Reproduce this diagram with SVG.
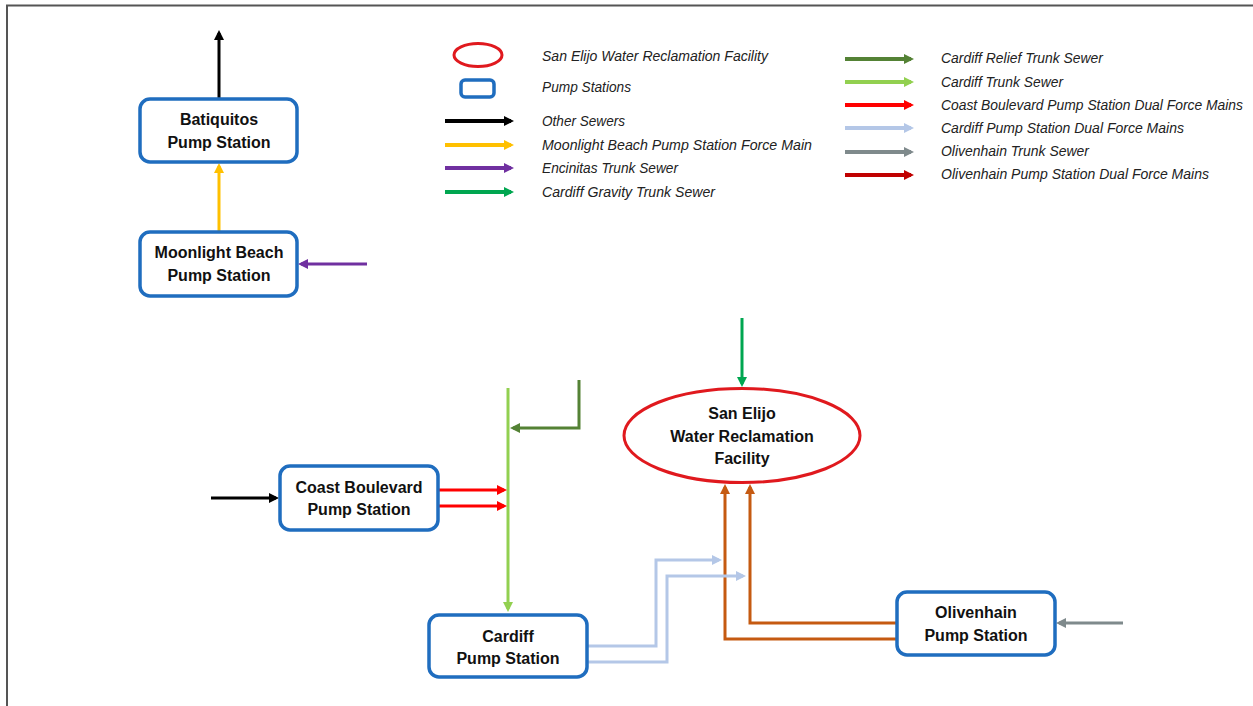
<svg xmlns="http://www.w3.org/2000/svg" width="1253" height="706" viewBox="0 0 1253 706">
<style>
.box{fill:#fff;stroke:#1f6dbf;stroke-width:3.5}
.lbl{font-family:"Liberation Sans",Arial,sans-serif;font-weight:bold;font-size:16px;fill:#111;text-anchor:middle}
.leg{font-family:"Liberation Sans",Arial,sans-serif;font-style:italic;font-size:14px;fill:#222}
.ln{fill:none;stroke-width:3}
.lg{fill:none;stroke-width:4}
</style>
<defs>
<marker id="aBlack" viewBox="0 0 10 10" refX="7" refY="5" markerWidth="12" markerHeight="10" markerUnits="userSpaceOnUse" orient="auto"><path d="M0,0L10,5L0,10z" fill="#000"/></marker>
<marker id="aYellow" viewBox="0 0 10 10" refX="7" refY="5" markerWidth="12" markerHeight="10" markerUnits="userSpaceOnUse" orient="auto"><path d="M0,0L10,5L0,10z" fill="#ffc000"/></marker>
<marker id="aPurple" viewBox="0 0 10 10" refX="7" refY="5" markerWidth="12" markerHeight="10" markerUnits="userSpaceOnUse" orient="auto"><path d="M0,0L10,5L0,10z" fill="#7030a0"/></marker>
<marker id="aGreen" viewBox="0 0 10 10" refX="7" refY="5" markerWidth="12" markerHeight="10" markerUnits="userSpaceOnUse" orient="auto"><path d="M0,0L10,5L0,10z" fill="#00a650"/></marker>
<marker id="aDkGreen" viewBox="0 0 10 10" refX="7" refY="5" markerWidth="12" markerHeight="10" markerUnits="userSpaceOnUse" orient="auto"><path d="M0,0L10,5L0,10z" fill="#548235"/></marker>
<marker id="aLtGreen" viewBox="0 0 10 10" refX="7" refY="5" markerWidth="12" markerHeight="10" markerUnits="userSpaceOnUse" orient="auto"><path d="M0,0L10,5L0,10z" fill="#92d050"/></marker>
<marker id="aRed" viewBox="0 0 10 10" refX="7" refY="5" markerWidth="12" markerHeight="10" markerUnits="userSpaceOnUse" orient="auto"><path d="M0,0L10,5L0,10z" fill="#ff0000"/></marker>
<marker id="aLtBlue" viewBox="0 0 10 10" refX="7" refY="5" markerWidth="12" markerHeight="10" markerUnits="userSpaceOnUse" orient="auto"><path d="M0,0L10,5L0,10z" fill="#b4c7e7"/></marker>
<marker id="aGray" viewBox="0 0 10 10" refX="7" refY="5" markerWidth="12" markerHeight="10" markerUnits="userSpaceOnUse" orient="auto"><path d="M0,0L10,5L0,10z" fill="#7f8a8c"/></marker>
<marker id="aDkRed" viewBox="0 0 10 10" refX="7" refY="5" markerWidth="12" markerHeight="10" markerUnits="userSpaceOnUse" orient="auto"><path d="M0,0L10,5L0,10z" fill="#c00000"/></marker>
<marker id="aOrange" viewBox="0 0 10 10" refX="7" refY="5" markerWidth="12" markerHeight="10" markerUnits="userSpaceOnUse" orient="auto"><path d="M0,0L10,5L0,10z" fill="#c55a11"/></marker>
</defs>
<rect width="1253" height="706" fill="#fff"/>
<path d="M7,706V5.5H1253" fill="none" stroke="#555" stroke-width="2"/>

<g id="legend">
<ellipse cx="478" cy="55" rx="24" ry="11.5" fill="none" stroke="#e0191e" stroke-width="3"/>
<rect x="461" y="80" width="33" height="17" rx="4" fill="none" stroke="#1f6dbf" stroke-width="3.5"/>
<line class="lg" x1="445" y1="121" x2="511" y2="121" stroke="#000" marker-end="url(#aBlack)"/>
<line class="lg" x1="445" y1="145" x2="511" y2="145" stroke="#ffc000" marker-end="url(#aYellow)"/>
<line class="lg" x1="445" y1="168" x2="511" y2="168" stroke="#7030a0" marker-end="url(#aPurple)"/>
<line class="lg" x1="445" y1="192" x2="511" y2="192" stroke="#00a650" marker-end="url(#aGreen)"/>
<text class="leg" x="542" y="61" textLength="226" lengthAdjust="spacingAndGlyphs">San Elijo Water Reclamation Facility</text>
<text class="leg" x="542" y="92" textLength="89" lengthAdjust="spacingAndGlyphs">Pump Stations</text>
<text class="leg" x="542" y="126" textLength="83" lengthAdjust="spacingAndGlyphs">Other Sewers</text>
<text class="leg" x="542" y="150" textLength="270" lengthAdjust="spacingAndGlyphs">Moonlight Beach Pump Station Force Main</text>
<text class="leg" x="542" y="173" textLength="136" lengthAdjust="spacingAndGlyphs">Encinitas Trunk Sewer</text>
<text class="leg" x="542" y="197" textLength="173" lengthAdjust="spacingAndGlyphs">Cardiff Gravity Trunk Sewer</text>
<line class="lg" x1="845" y1="59" x2="911" y2="59" stroke="#548235" marker-end="url(#aDkGreen)"/>
<line class="lg" x1="845" y1="82" x2="911" y2="82" stroke="#92d050" marker-end="url(#aLtGreen)"/>
<line class="lg" x1="845" y1="105" x2="911" y2="105" stroke="#ff0000" marker-end="url(#aRed)"/>
<line class="lg" x1="845" y1="128" x2="911" y2="128" stroke="#b4c7e7" marker-end="url(#aLtBlue)"/>
<line class="lg" x1="845" y1="152" x2="911" y2="152" stroke="#7f8a8c" marker-end="url(#aGray)"/>
<line class="lg" x1="845" y1="175" x2="911" y2="175" stroke="#c00000" marker-end="url(#aDkRed)"/>
<text class="leg" x="941" y="63" textLength="162" lengthAdjust="spacingAndGlyphs">Cardiff Relief Trunk Sewer</text>
<text class="leg" x="941" y="87" textLength="122" lengthAdjust="spacingAndGlyphs">Cardiff Trunk Sewer</text>
<text class="leg" x="941" y="110" textLength="302" lengthAdjust="spacingAndGlyphs">Coast Boulevard Pump Station Dual Force Mains</text>
<text class="leg" x="941" y="133" textLength="243" lengthAdjust="spacingAndGlyphs">Cardiff Pump Station Dual Force Mains</text>
<text class="leg" x="941" y="156" textLength="148" lengthAdjust="spacingAndGlyphs">Olivenhain Trunk Sewer</text>
<text class="leg" x="941" y="179" textLength="268" lengthAdjust="spacingAndGlyphs">Olivenhain Pump Station Dual Force Mains</text>
</g>

<g id="connectors">
<line class="ln" x1="219" y1="99" x2="219" y2="33" stroke="#000" marker-end="url(#aBlack)"/>
<line class="ln" x1="219" y1="232" x2="219" y2="166" stroke="#ffc000" marker-end="url(#aYellow)"/>
<line class="ln" x1="367" y1="264" x2="301" y2="264" stroke="#7030a0" marker-end="url(#aPurple)"/>
<line class="ln" x1="211" y1="498" x2="276" y2="498" stroke="#000" marker-end="url(#aBlack)"/>
<line class="ln" x1="508" y1="388" x2="508" y2="609" stroke="#92d050" stroke-width="2.5" marker-end="url(#aLtGreen)"/>
<path class="ln" d="M579,380V428H513" stroke="#548235" marker-end="url(#aDkGreen)"/>
<line class="ln" x1="438" y1="490" x2="504" y2="490" stroke="#ff0000" stroke-width="3.5" marker-end="url(#aRed)"/>
<line class="ln" x1="438" y1="506" x2="504" y2="506" stroke="#ff0000" stroke-width="3.5" marker-end="url(#aRed)"/>
<line class="ln" x1="742" y1="318" x2="742" y2="384" stroke="#00a650" marker-end="url(#aGreen)"/>
<path class="ln" d="M897,639H725V487" stroke="#c55a11" marker-end="url(#aOrange)"/>
<path class="ln" d="M897,623H750V487" stroke="#c55a11" marker-end="url(#aOrange)"/>
<path class="ln" d="M587,646H656V560H719" stroke="#b4c7e7" marker-end="url(#aLtBlue)"/>
<path class="ln" d="M587,662H667V576H743" stroke="#b4c7e7" marker-end="url(#aLtBlue)"/>
<line class="ln" x1="1123" y1="623" x2="1059" y2="623" stroke="#7f8a8c" marker-end="url(#aGray)"/>
</g>

<g id="batiquitos">
<rect class="box" x="140" y="99" width="157" height="63" rx="10"/>
<text class="lbl" x="219" y="125">Batiquitos</text>
<text class="lbl" x="219" y="148">Pump Station</text>
</g>
<g id="moonlight">
<rect class="box" x="140" y="232" width="157" height="64" rx="10"/>
<text class="lbl" x="219" y="258">Moonlight Beach</text>
<text class="lbl" x="219" y="281">Pump Station</text>
</g>
<g id="coast">
<rect class="box" x="280" y="466" width="158" height="64" rx="10"/>
<text class="lbl" x="359" y="493">Coast Boulevard</text>
<text class="lbl" x="359" y="515">Pump Station</text>
</g>
<g id="cardiff">
<rect class="box" x="429" y="615" width="158" height="62" rx="10"/>
<text class="lbl" x="508" y="642">Cardiff</text>
<text class="lbl" x="508" y="664">Pump Station</text>
</g>
<g id="sanelijo">
<ellipse cx="742" cy="435.5" rx="118" ry="47" fill="#fff" stroke="#e0191e" stroke-width="3"/>
<text class="lbl" x="742" y="419">San Elijo</text>
<text class="lbl" x="742" y="442">Water Reclamation</text>
<text class="lbl" x="742" y="464">Facility</text>
</g>
<g id="olivenhain">
<rect class="box" x="897" y="592" width="158" height="63" rx="10"/>
<text class="lbl" x="976" y="618">Olivenhain</text>
<text class="lbl" x="976" y="641">Pump Station</text>
</g>
</svg>
